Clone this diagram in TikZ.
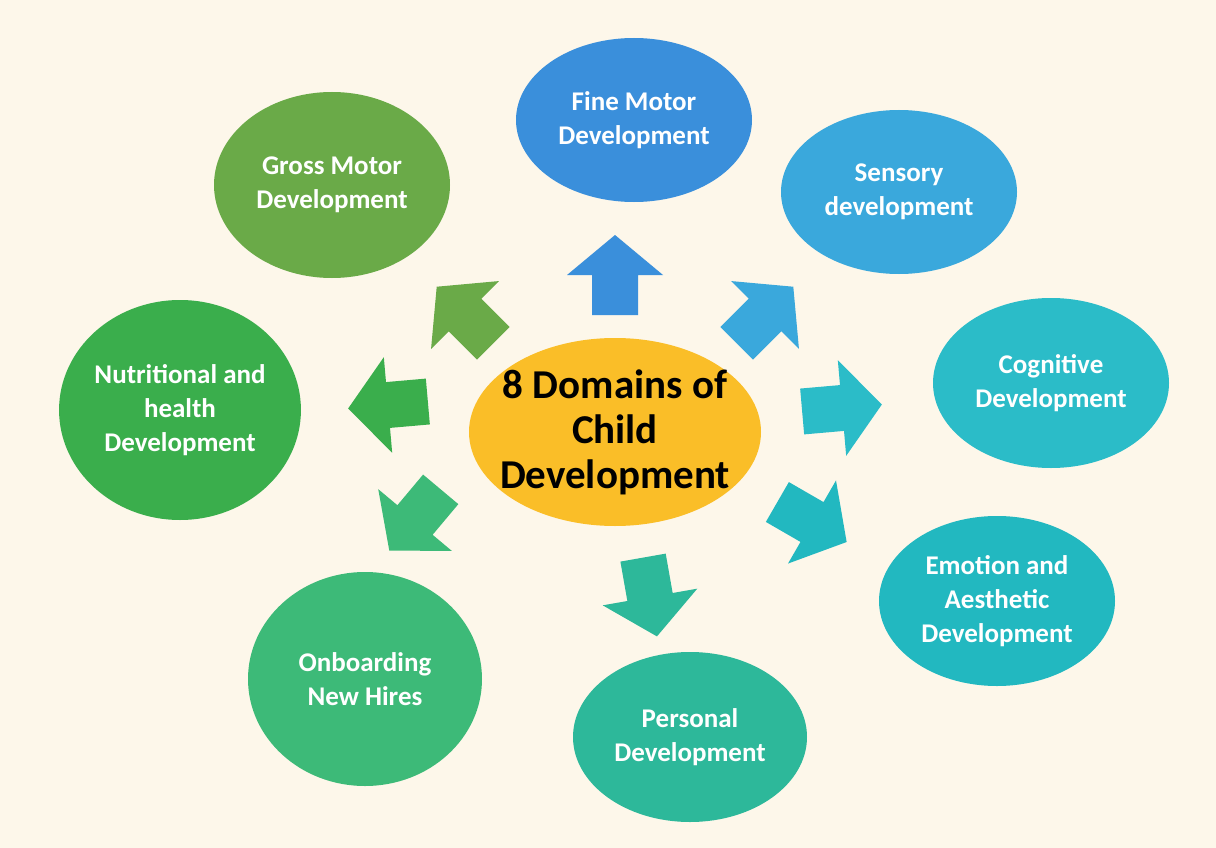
\documentclass[tikz,border=0pt]{standalone}
\usepackage{fontspec}
\setmainfont{Carlito}
\usetikzlibrary{shapes.geometric}
\definecolor{bg}{RGB}{253,247,234}
\definecolor{cfm}{RGB}{58,143,219}
\definecolor{cse}{RGB}{58,168,220}
\definecolor{cco}{RGB}{43,188,200}
\definecolor{cem}{RGB}{34,184,192}
\definecolor{cpe}{RGB}{45,184,154}
\definecolor{con}{RGB}{61,186,120}
\definecolor{cnu}{RGB}{58,174,76}
\definecolor{cgm}{RGB}{106,170,72}
\definecolor{cc}{RGB}{250,190,40}
\newcommand{\blockarrow}[4]{% x,y,angle,color
  \fill[#4,shift={(#1,#2)},rotate=#3] (-40,-23) -- (0,-23) -- (0,-48) -- (40,0) -- (0,48) -- (0,23) -- (-40,23) -- cycle;}
\begin{document}
\begin{tikzpicture}[x=1pt,y=-1pt,
  bub/.style={ellipse,minimum width=2*#1,draw=none,inner sep=0pt,align=center,
    text=white,font=\fontsize{27}{34}\selectfont\bfseries},
]
\fill[bg] (0,0) rectangle (1216,848);
\useasboundingbox (0,0) rectangle (1216,848);
% arrows
\blockarrow{615}{275}{90}{cfm}
\blockarrow{465}{315}{135}{cgm}
\blockarrow{765}{315}{45}{cse}
\blockarrow{842}{408}{5}{cco}
\blockarrow{812}{522}{-30}{cem}
\blockarrow{650}{597}{-80}{cpe}
\blockarrow{415}{520}{-130}{con}
\blockarrow{388}{405}{-175}{cnu}
% bubbles
\node[bub=146pt,minimum height=188pt,inner sep=-17pt,fill=cc,text=black,font=\fontsize{41}{45}\selectfont\bfseries] (c) at (615,432) {8 Domains of\\Child\\Development};
\node[bub=118pt,minimum height=164pt,fill=cfm] (fm) at (634,120) {Fine Motor\\Development};
\node[bub=118pt,minimum height=164pt,fill=cse] (se) at (899,192) {Sensory\\development};
\node[bub=118pt,minimum height=170pt,fill=cco] (co) at (1051,383) {Cognitive\\Development};
\node[bub=118pt,minimum height=170pt,fill=cem] (em) at (997,601) {Emotion and\\Aesthetic\\Development};
\node[bub=117pt,minimum height=170pt,fill=cpe] (pe) at (690,737) {Personal\\Development};
\node[bub=117pt,minimum height=214pt,fill=con] (on) at (365,679) {Onboarding\\New Hires};
\node[bub=118pt,minimum height=220pt,fill=cnu] (nu) at (180,410) {Nutritional and\\health\\Development};
\node[bub=118pt,minimum height=186pt,fill=cgm] (gm) at (332,185) {Gross Motor\\Development};
\end{tikzpicture}
\end{document}
